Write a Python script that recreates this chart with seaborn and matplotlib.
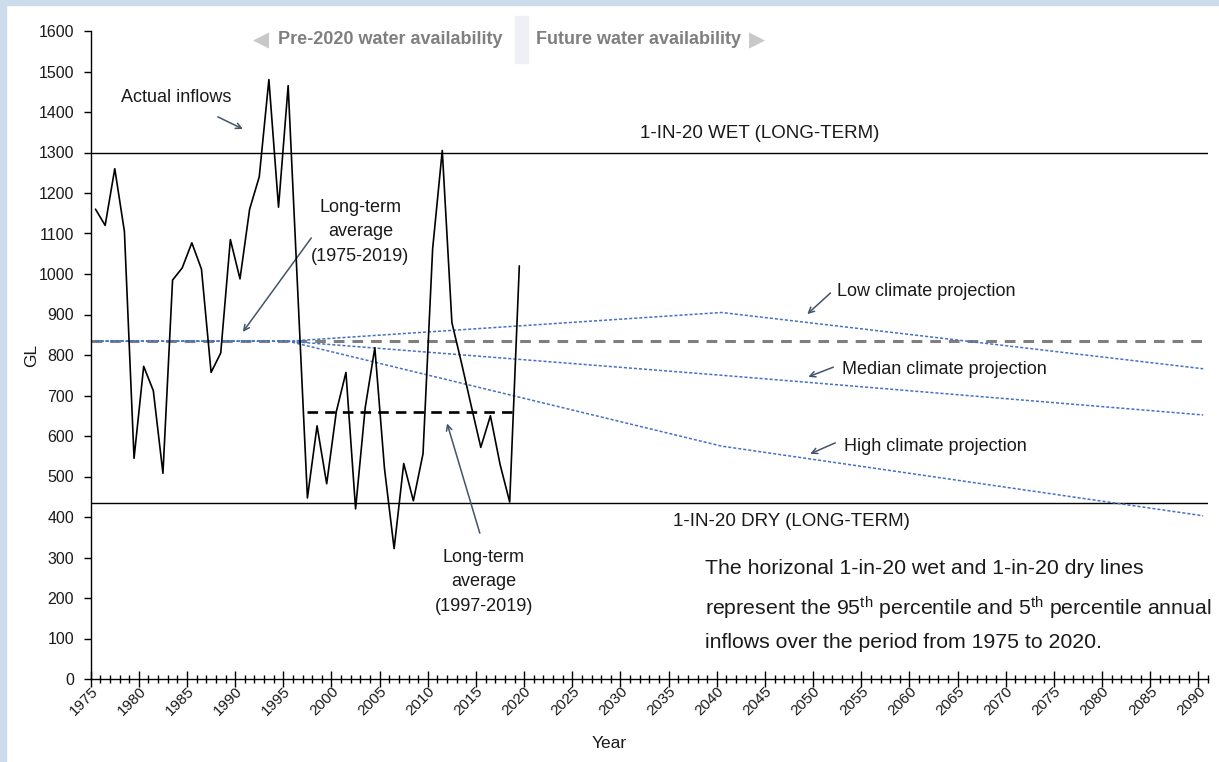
import numpy as np
import pandas as pd
import seaborn as sns
import matplotlib.pyplot as plt
from matplotlib import font_manager, transforms
from matplotlib.patches import Rectangle

# annual inflows (GL)
years = list(range(1975, 2020))
inflows = [1160, 1120, 1260, 1105, 545, 772, 712, 508, 985, 1015,
           1077, 1012, 757, 805, 1085, 988, 1160, 1240, 1480, 1165,
           1465, 955, 447, 625, 482, 660, 757, 420, 670, 818,
           520, 322, 532, 440, 556, 1062, 1305, 880, 780, 675,
           572, 650, 530, 437, 1020]

avg_all = 834          # long-term average 1975-2019
avg_recent = 659       # long-term average 1997-2019
recent_span = [1997, 2019]
wet_1in20 = 1300
dry_1in20 = 435

proj_years = [1975, 1995, 2040, 2090]
proj_low = [834, 834, 905, 766]
proj_median = [834, 834, 750, 652]
proj_high = [834, 834, 575, 403]

tick_years = list(range(1975, 2091, 5))
y_ticks = list(range(0, 1601, 100))

sns.set_style('ticks')
names = {f.name for f in font_manager.fontManager.ttflist}
base = 'Liberation Sans' if 'Liberation Sans' in names else 'DejaVu Sans'
plt.rcParams['font.family'] = [base, 'DejaVu Sans']
plt.rcParams['mathtext.fontset'] = 'custom'
plt.rcParams['mathtext.rm'] = base
plt.rcParams['mathtext.it'] = base

W, H = 1219, 762
fig = plt.figure(figsize=(W / 100, H / 100), dpi=100, facecolor='white')
ax = fig.add_axes([90.7 / W, 83 / H, 1117.3 / W, 648 / H])

# light blue frame strips
strip = '#CCDCEB'
fig.patches.append(Rectangle((0, 1 - 5 / H), 1, 5 / H, transform=fig.transFigure,
                             color=strip, zorder=0))
fig.patches.append(Rectangle((0, 0), 6 / W, 1, transform=fig.transFigure,
                             color=strip, zorder=0))

# reference lines
ax.axhline(wet_1in20, color='black', lw=1.0, zorder=2)
ax.axhline(dry_1in20, color='black', lw=1.0, zorder=2)
ax.axhline(avg_all, color='#7F7F7F', lw=2.2, linestyle=(0, (3.5, 2.6)), zorder=2)
ax.hlines(avg_recent, recent_span[0], recent_span[1], color='black', lw=1.9,
          linestyle=(0, (4.0, 2.7)), zorder=3)

# climate projections
blue = '#4472C4'
for vals in [proj_low, proj_median, proj_high]:
    sns.lineplot(x=proj_years, y=vals, ax=ax, color=blue, lw=1.1,
                 linestyle=(0, (2.0, 1.3)), zorder=3)

# actual inflows
sns.lineplot(x=years, y=inflows, ax=ax, color='black', lw=1.2, zorder=4)

ax.set_xlim(tick_years[0] - 0.5, tick_years[-1] + 0.5)
ax.set_ylim(0, 1600)
ax.set_yticks(y_ticks)
ax.set_xticks([t - 0.5 for t in tick_years])
ax.set_xticklabels(tick_years, rotation=45, ha='right', va='center',
                   rotation_mode='anchor', fontsize=11, color='#1a1a1a')
ax.set_xticks(np.arange(tick_years[0] - 0.5, tick_years[-1] + 0.6, 1), minor=True)
ax.tick_params(axis='x', which='major', direction='inout', length=11, width=1.0,
               pad=2, color='black')
ax.tick_params(axis='x', which='minor', direction='inout', length=6, width=1.0,
               color='black')
ax.tick_params(axis='y', direction='out', length=5, width=1.0, labelsize=11.5,
               labelcolor='#1a1a1a', pad=7, color='black')
shift = transforms.ScaledTranslation(4.8 / 100, 0, fig.dpi_scale_trans)
for lab in ax.get_xticklabels():
    lab.set_transform(lab.get_transform() + shift)

for s in ['top', 'right']:
    ax.spines[s].set_visible(False)
for s in ['left', 'bottom']:
    ax.spines[s].set_linewidth(1.0)
    ax.spines[s].set_color('black')
ax.set_xlabel('')
ax.set_ylabel('')

fig.text(32 / W, 1 - 355 / H, 'GL', rotation=90, ha='center', va='center',
         fontsize=12.5, color='#1a1a1a')
fig.text(609 / W, 1 - 743 / H, 'Year', ha='center', va='center',
         fontsize=12.5, color='#1a1a1a')

# header
grey = '#7F7F7F'
fig.patches.append(Rectangle((515 / W, 1 - 63 / H), 13 / W, 47 / H,
                             transform=fig.transFigure, color='#EEF0F5', zorder=0))
fig.text(278 / W, 1 - 40 / H, 'Pre-2020 water availability', ha='left', va='center',
         fontsize=13, fontweight='bold', color=grey)
fig.text(536 / W, 1 - 40 / H, 'Future water availability', ha='left', va='center',
         fontsize=13, fontweight='bold', color=grey)
fig.text(261 / W, 1 - 40 / H, '\u25C0', ha='center', va='center', fontsize=15,
         color='#C8C8C8', family='DejaVu Sans')
fig.text(757 / W, 1 - 40 / H, '\u25B6', ha='center', va='center', fontsize=15,
         color='#C8C8C8', family='DejaVu Sans')

# annotations
txt = '#1a1a1a'
arrow = dict(arrowstyle='->', color='#44546A', lw=1.1, shrinkA=0, shrinkB=0)
ax.text(1983.4, 1437, 'Actual inflows', ha='center', va='center', fontsize=13, color=txt)
ax.annotate('', xy=(1990.3, 1358), xytext=(1987.7, 1388), arrowprops=arrow)

ax.text(2002.5, 1104, 'Long-term\naverage\n(1975-2019)', ha='center', va='center',
        fontsize=13, color=txt, linespacing=1.57)
ax.annotate('', xy=(1990.3, 857), xytext=(1997.4, 1089), arrowprops=arrow)

ax.text(2015.3, 240, 'Long-term\naverage\n(1997-2019)', ha='center', va='center',
        fontsize=13, color=txt, linespacing=1.57)
ax.annotate('', xy=(2011.5, 631), xytext=(2014.9, 360), arrowprops=arrow)

ax.text(2044.0, 1348, '1-IN-20 WET (LONG-TERM)', ha='center', va='center',
        fontsize=13.5, color=txt)
ax.text(2047.3, 388, '1-IN-20 DRY (LONG-TERM)', ha='center', va='center',
        fontsize=13.5, color=txt)

ax.text(2052.0, 958, 'Low climate projection', ha='left', va='center', fontsize=13, color=txt)
ax.annotate('', xy=(2048.9, 901), xytext=(2051.3, 953), arrowprops=arrow)
ax.text(2052.5, 765, 'Median climate projection', ha='left', va='center', fontsize=13, color=txt)
ax.annotate('', xy=(2049.0, 746), xytext=(2051.6, 770), arrowprops=arrow)
ax.text(2052.7, 575, 'High climate projection', ha='left', va='center', fontsize=13, color=txt)
ax.annotate('', xy=(2049.2, 556), xytext=(2051.8, 583), arrowprops=arrow)

note = ['The horizonal 1-in-20 wet and 1-in-20 dry lines',
        r'represent the 95$^{\mathrm{th}}$ percentile and 5$^{\mathrm{th}}$ percentile annual',
        'inflows over the period from 1975 to 2020.']
for line, yv in zip(note, [272, 174, 90]):
    ax.text(2038.3, yv, line, ha='left', va='center', fontsize=15.3, color=txt)

fig.savefig('out.png', dpi=100, facecolor='white')
